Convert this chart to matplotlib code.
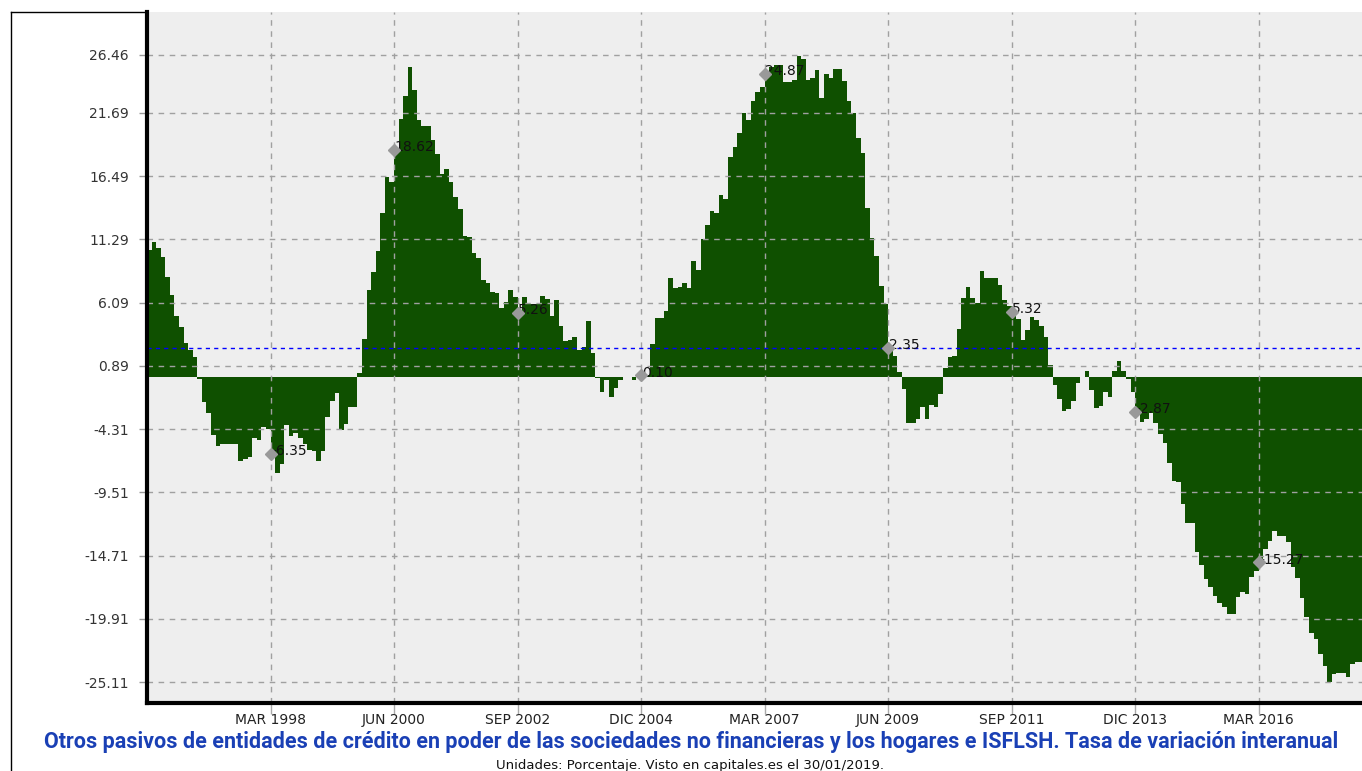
import matplotlib
matplotlib.use("Agg")
import matplotlib.pyplot as plt
from matplotlib.lines import Line2D
import numpy as np

# monthly values (tasa de variacion interanual, %)
values = [
    10.42, 11.05, 10.6, 9.82, 8.22, 6.74, 4.97, 4.11, 2.75, 2.2,
    1.6, -0.2, -2.08, -3.01, -4.8, -5.7, -5.56, -5.56, -5.5, -5.5,
    -6.9, -6.8, -6.6, -5.0, -5.2, -4.1, -4.3, -6.35, -7.95, -7.2,
    -3.97, -4.9, -4.66, -5.0, -5.5, -6.0, -6.1, -6.9, -6.1, -3.3,
    -1.97, -1.37, -4.38, -3.9, -2.47, -2.5, 0.33, 3.1, 7.13, 8.64,
    10.36, 13.43, 16.45, 16.04, 18.62, 21.19, 23.08, 25.5, 23.6, 21.1,
    20.6, 20.6, 19.5, 18.3, 16.7, 17.1, 16.0, 14.8, 13.8, 11.6,
    11.5, 10.2, 9.8, 7.95, 7.68, 6.94, 6.86, 5.67, 6.17, 7.13,
    6.53, 5.26, 6.58, 6.0, 6.0, 6.0, 6.6, 6.4, 5.0, 6.3,
    4.17, 2.96, 3.0, 3.29, 2.2, 2.47, 4.6, 1.97, -0.1, -1.23,
    -0.27, -1.7, -0.96, -0.3, -0.05, -0.05, -0.3, 0.1, 0.10, 0.1,
    2.66, 4.8, 4.8, 5.43, 8.14, 7.27, 7.35, 7.68, 7.27, 9.51,
    8.77, 11.32, 12.47, 13.65, 13.5, 14.97, 14.59, 18.04, 18.86, 20.0,
    21.7, 21.1, 22.7, 23.4, 23.8, 24.87, 25.45, 25.6, 25.6, 24.2,
    24.2, 24.4, 26.4, 26.1, 24.4, 24.6, 25.2, 22.9, 24.9, 24.6,
    25.3, 25.3, 24.3, 22.7, 21.7, 19.6, 18.4, 13.9, 11.4, 9.9,
    7.5, 6.0, 2.35, 1.7, 0.41, -1.04, -3.83, -3.83, -3.5, -2.47,
    -3.5, -2.33, -2.5, -1.42, 0.74, 1.6, 1.7, 3.9, 6.45, 7.4,
    6.5, 6.1, 8.72, 8.09, 8.09, 8.09, 7.54, 6.3, 5.8, 5.32,
    4.72, 3.02, 3.84, 4.88, 4.66, 4.17, 3.24, 0.96, -0.68, -1.83,
    -2.82, -2.68, -1.97, -0.49, -0.05, 0.5, -1.1, -2.55, -2.41, -1.23,
    -1.7, 0.5, 1.3, 0.45, -0.21, -1.23, -2.87, -3.7, -3.5, -3.0,
    -3.78, -4.71, -5.48, -7.12, -8.55, -8.63, -10.47, -12.0, -12.0, -14.39,
    -15.48, -16.66, -17.27, -18.03, -18.64, -18.9, -19.54, -19.54, -18.14, -17.68,
    -17.87, -16.5, -15.98, -15.27, -14.17, -13.49, -12.66, -13.1, -13.1, -13.57,
    -15.62, -16.58, -18.22, -19.74, -21.05, -21.6, -22.8, -23.79, -25.08, -24.47,
    -24.4, -24.4, -24.67, -23.63, -23.44, -23.44,
]

# x tick labels and the month index where each one sits
tick_labels = ["MAR 1998", "JUN 2000", "SEP 2002", "DIC 2004", "MAR 2007",
               "JUN 2009", "SEP 2011", "DIC 2013", "MAR 2016"]
tick_months = [27, 54, 81, 108, 135, 162, 189, 216, 243]

y_ticks = [26.46, 21.69, 16.49, 11.29, 6.09, 0.89, -4.31, -9.51, -14.71, -19.91, -25.11]

# average line
avg_value = 2.36

title = ("Otros pasivos de entidades de crédito en poder de las sociedades no financieras "
         "y los hogares e ISFLSH. Tasa de variación interanual")
subtitle = "Unidades: Porcentaje. Visto en capitales.es el 30/01/2019."

W, H = 1362, 771


def main():
    fig = plt.figure(figsize=(W / 100, H / 100), dpi=100)
    ax = fig.add_axes([147 / W, 1 - 703 / H, (W - 147) / W, (703 - 12) / H])
    ax.set_facecolor("#eeeeee")

    # one bar per month, drawn as a filled step area so there are no seams
    green = "#0f5000"
    edges = np.arange(len(values) + 1)
    ax.stairs(values, edges, baseline=0, fill=True, color=green, zorder=2)

    ax.set_xlim(0, 265.6)
    ax.set_ylim(-26.83, 29.99)

    ax.set_yticks(y_ticks)
    ax.set_yticklabels([f"{v:.2f}" for v in y_ticks])
    ax.set_xticks(tick_months)
    ax.set_xticklabels(tick_labels)
    ax.tick_params(axis="y", length=6, width=1, color="#999999", pad=7,
                   labelsize=10, labelcolor="#333333")
    ax.tick_params(axis="x", length=8, width=1, color="#aaaaaa", pad=-1,
                   labelsize=10, labelcolor="#222222")

    ax.grid(True, color="#a0a0a0", linestyle=(0, (4, 4)), linewidth=1, zorder=3)
    ax.set_axisbelow(False)
    for line in ax.get_xgridlines() + ax.get_ygridlines():
        line.set_zorder(3)

    ax.axhline(avg_value, color="#0000ff", linestyle=(0, (3, 3)), linewidth=1, zorder=4)

    for s in ["top", "right"]:
        ax.spines[s].set_visible(False)
    ax.spines["left"].set_linewidth(3)
    ax.spines["bottom"].set_linewidth(3)
    ax.spines["left"].set_zorder(6)
    ax.spines["bottom"].set_zorder(6)

    # diamond markers with their values
    for m in tick_months:
        v = values[m]
        ax.annotate(f"{v:.2f}", (m, v), xytext=(0.5, 2), textcoords="offset points",
                    ha="left", va="center", fontsize=10, color="#111111", zorder=5)
        ax.plot([m], [v], marker="D", markersize=6.5, color="#999999",
                markeredgecolor="#999999", zorder=6, clip_on=False)

    # outer frame (left and top only, the rest is cut by the image border)
    fig.add_artist(Line2D([11 / W, 11 / W], [0, 1 - 12 / H], color="black",
                          linewidth=1, transform=fig.transFigure))
    fig.add_artist(Line2D([11 / W, 147 / W], [1 - 12 / H, 1 - 12 / H], color="black",
                          linewidth=1, transform=fig.transFigure))

    fig.text(691 / W, 1 - 742 / H, title, ha="center", va="center",
             fontsize=15.5, fontweight="bold", color="#1a40b5", family="Roboto")
    fig.text(690 / W, 1 - 765 / H, subtitle, ha="center", va="center",
             fontsize=9.5, color="#111111")

    fig.savefig("out.png", dpi=100)


if __name__ == "__main__":
    main()
